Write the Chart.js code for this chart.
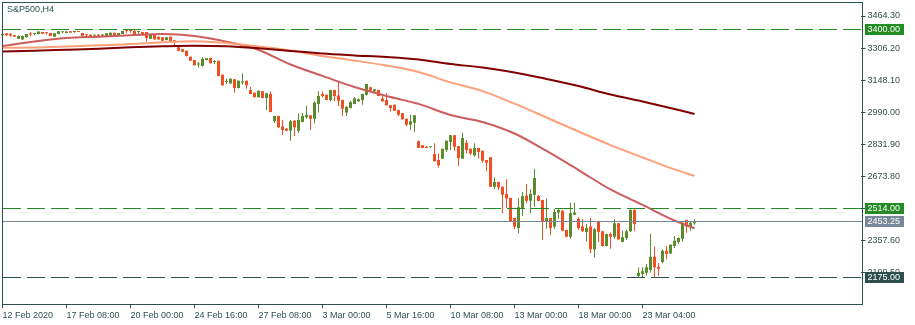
<!DOCTYPE html>
<html>
<head>
<meta charset="utf-8">
<title>S&amp;P500,H4</title>
<script src="https://cdn.jsdelivr.net/npm/chart.js@4.4.1/dist/chart.umd.min.js"></script>
<style>
  html, body { margin: 0; padding: 0; background: #ffffff; }
  #wrap { width: 915px; height: 325px; }
</style>
</head>
<body>
<div id="wrap"><canvas id="chart" width="915" height="325"></canvas></div>
<script>
// S&P500 H4 candles, oldest first
const opens = [
    3369,3379,3377,3369,3352,3349,3359,3378,3376,3376,
    3385,3383,3380,3362,3376,3384,3380,3389,3385,3389,
    3380,3372,3372,3368,3371,3368,3362,3369,3382,3369,
    3376,3393,3393,3392,3385,3385,3385,3352,3372,3362,
    3359,3346,3362,3342,3310,3300,3293,3264,3247,3225,
    3218,3247,3257,3238,3244,3175,3139,3132,3152,3109,
    3136,3145,3099,3086,3064,3093,3060,3080,2945,2971,
    2919,2909,2899,2948,2899,2942,2965,2975,2958,3030,
    3080,3076,3050,3100,3073,3050,2988,3011,3030,3044,
    3050,3076,3113,3093,3100,3057,3050,3024,3027,3001,
    2985,2958,2928,2938,2847,2827,2820,2817,2784,2754,
    2761,2804,2843,2876,2823,2761,2840,2810,2778,2814,
    2800,2754,2768,2623,2646,2623,2587,2567,2468,2419,
    2518,2580,2554,2583,2577,2557,2452,2468,2426,2495,
    2504,2409,2376,2485,2465,2426,2399,2426,2314,2452,
    2403,2330,2390,2376,2442,2350,2370,2403,2508,2182,
    2192,2199,2212,2278,2228,2252,2307,2294,2330,2350,
    2366,2459,2429,2442
];
const highs = [
    3378,3380,3378,3371,3368,3368,3376,3385,3380,3389,
    3386,3385,3382,3380,3390,3389,3389,3390,3389,3390,
    3382,3376,3373,3372,3376,3376,3380,3383,3383,3380,
    3390,3395,3399,3393,3392,3386,3386,3373,3373,3363,
    3361,3361,3363,3343,3311,3302,3294,3265,3248,3238,
    3261,3257,3258,3247,3245,3176,3155,3156,3154,3146,
    3182,3146,3114,3087,3097,3095,3085,3093,2972,2972,
    2952,2912,2952,2952,2985,2986,3021,2976,3044,3093,
    3093,3077,3101,3101,3139,3051,3018,3045,3065,3057,
    3081,3130,3116,3104,3101,3070,3083,3026,3028,3002,
    2986,2959,2978,2976,2850,2828,2823,2818,2837,2787,
    2811,2850,2878,2878,2824,2889,2853,2811,2837,2815,
    2801,2755,2769,2669,2647,2624,2659,2568,2469,2567,
    2597,2636,2610,2711,2582,2558,2564,2469,2514,2514,
    2508,2410,2544,2544,2472,2462,2439,2468,2419,2455,
    2405,2391,2396,2462,2444,2406,2409,2511,2511,2225,
    2225,2242,2390,2327,2248,2314,2330,2338,2380,2373,
    2446,2460,2449,2462
];
const lows = [
    3366,3366,3362,3361,3351,3348,3358,3366,3369,3374,
    3376,3372,3364,3361,3374,3379,3379,3382,3382,3385,
    3367,3362,3362,3359,3356,3362,3361,3368,3368,3368,
    3375,3382,3382,3376,3376,3368,3338,3351,3348,3348,
    3341,3345,3339,3320,3290,3286,3265,3242,3220,3211,
    3214,3246,3230,3228,3167,3119,3129,3131,3086,3108,
    3126,3106,3079,3063,3063,3059,3001,2990,2937,2912,
    2878,2897,2849,2873,2889,2941,2958,2902,2935,2988,
    3064,3049,3044,3044,3021,2971,2971,3010,3029,3040,
    3027,3073,3095,3090,3069,3040,3023,2994,2996,2971,
    2954,2919,2902,2892,2813,2813,2813,2815,2747,2718,
    2760,2794,2804,2800,2725,2760,2787,2778,2771,2761,
    2741,2699,2621,2610,2606,2492,2518,2449,2413,2393,
    2478,2544,2492,2524,2551,2360,2416,2383,2416,2465,
    2403,2373,2366,2482,2409,2399,2354,2295,2275,2350,
    2328,2329,2317,2366,2362,2349,2360,2399,2403,2174,
    2177,2186,2199,2177,2182,2245,2265,2293,2320,2340,
    2354,2396,2406,2435
];
const closes = [
    3376,3369,3368,3362,3366,3366,3376,3373,3378,3388,
    3377,3379,3366,3379,3389,3385,3388,3382,3387,3385,
    3367,3369,3362,3371,3367,3371,3379,3382,3369,3380,
    3390,3390,3390,3376,3388,3369,3356,3372,3349,3349,
    3342,3359,3340,3340,3293,3288,3267,3244,3221,3230,
    3254,3256,3231,3242,3169,3123,3144,3155,3109,3145,
    3142,3123,3080,3064,3096,3060,3083,2991,2971,2916,
    2902,2899,2945,2916,2952,2971,2978,2958,3037,3070,
    3070,3050,3100,3070,3047,3007,3017,3040,3057,3054,
    3080,3129,3096,3103,3070,3044,3024,3011,2997,2978,
    2955,2928,2945,2975,2814,2814,2814,2817,2748,2728,
    2810,2849,2876,2820,2764,2863,2804,2787,2814,2794,
    2751,2741,2623,2646,2620,2583,2564,2452,2426,2521,
    2577,2554,2587,2666,2552,2452,2468,2419,2498,2508,
    2406,2376,2492,2495,2419,2403,2419,2314,2413,2399,
    2330,2390,2376,2442,2363,2373,2403,2508,2439,2199,
    2206,2226,2278,2226,2218,2307,2291,2337,2356,2370,
    2445,2426,2445,2453
];

// moving averages every 8 bars
const maBars = [0,8,16,24,32,40,48,56,64,72,80,88,96,104,112,120,128,136,144,152,160,168,173];
const ma50  = [3316,3339,3356,3362,3369,3375,3366,3338,3297,3225,3169,3114,3070,3031,2976,2942,2885,2799,2705,2609,2533,2456,2418];
const ma100 = [3308,3309,3314,3320,3326,3335,3340,3331,3314,3294,3267,3245,3220,3188,3137,3094,3032,2964,2895,2828,2767,2708,2676];
const ma200 = [3289,3293,3298,3303,3310,3315,3318,3315,3305,3292,3279,3270,3262,3250,3228,3210,3186,3154,3119,3077,3043,3006,2981];

// time axis
const tickBars = [0,16,32,48,64,80,96,112,128,144,160];
const tickLabels = ['12 Feb 2020','17 Feb 08:00','20 Feb 00:00','24 Feb 16:00','27 Feb 08:00','3 Mar 00:00',
                    '5 Mar 16:00','10 Mar 08:00','13 Mar 00:00','18 Mar 00:00','23 Mar 04:00'];
const slotCount = 215; // bars + empty space on the right

// price axis
const priceTicks = [3464.3, 3306.2, 3148.1, 2990.0, 2831.9, 2673.8, 2515.7, 2357.6, 2199.5];
const priceMin = 2044.5;
const priceMax = 3528.4;

// horizontal levels
const levels = [3400, 2514, 2453.25, 2175];

// Colors
const dark = '#2F4F4F';
const colors = {
    bull: '#5A8C2E',
    bear: '#F04E23',
    ma50: '#CD5C5C',
    ma100: '#FFA07A',
    ma200: '#800000'
};
const levelStyles = [
    { color: '#228B22', dash: [18, 6] },
    { color: '#228B22', dash: [18, 6] },
    { color: '#778899', dash: [] },
    { color: dark, dash: [18, 6] }
];
const fontFamily = '"Liberation Sans", Arial, sans-serif';
const fontSize = 9;

const categories = [];
for (let i = 0; i < slotCount; i++) {
    const k = tickBars.indexOf(i);
    categories.push(k >= 0 ? tickLabels[k] : '');
}

const candleColors = closes.map((c, i) => c >= opens[i] ? colors.bull : colors.bear);
const wicks = lows.map((l, i) => [l, highs[i]]);
const bodies = opens.map((o, i) => [o, closes[i]]);

function sparse(values) {
    const out = new Array(opens.length).fill(null);
    maBars.forEach((b, k) => { out[b] = values[k]; });
    return out;
}

function maDataset(values, color) {
    return {
        type: 'line',
        data: sparse(values),
        borderColor: color,
        borderWidth: 2,
        pointRadius: 0,
        spanGaps: true,
        cubicInterpolationMode: 'monotone',
        fill: false,
        order: 0
    };
}

// levels, frame, title and price boxes
const overlay = {
    id: 'overlay',
    afterDatasetsDraw(chart) {
        const { ctx, chartArea: a, scales: { y } } = chart;
        ctx.save();
        ctx.beginPath();
        ctx.rect(2, a.top, 860, a.bottom - a.top);
        ctx.clip();
        levels.forEach((p, k) => {
            const py = Math.floor(y.getPixelForValue(p)) + 0.5;
            ctx.strokeStyle = levelStyles[k].color;
            ctx.lineWidth = 1;
            ctx.setLineDash(levelStyles[k].dash);
            ctx.beginPath();
            ctx.moveTo(3, py);
            ctx.lineTo(862, py);
            ctx.stroke();
        });
        ctx.restore();
    },
    afterDraw(chart) {
        const { ctx, scales: { y } } = chart;
        ctx.save();
        ctx.strokeStyle = dark;
        ctx.lineWidth = 1;
        ctx.strokeRect(2.5, 2.5, 860, 302);

        ctx.font = fontSize + 'px ' + fontFamily;
        ctx.textBaseline = 'middle';
        ctx.textAlign = 'left';
        ctx.fillStyle = dark;
        ctx.fillText('S&P500,H4', 7, 10);

        levels.forEach((p, k) => {
            const py = Math.floor(y.getPixelForValue(p)) + 0.5;
            ctx.fillStyle = levelStyles[k].color;
            ctx.fillRect(865, py - 5.5, 39, 11);
            ctx.fillStyle = '#ffffff';
            ctx.fillText(p.toFixed(2), 867.5, py);
        });
        ctx.restore();
    }
};

const chart = new Chart(document.getElementById('chart'), {
    type: 'bar',
    data: {
        labels: categories,
        datasets: [
            maDataset(ma200, colors.ma200),
            maDataset(ma100, colors.ma100),
            maDataset(ma50, colors.ma50),
            {
                data: bodies,
                backgroundColor: candleColors,
                barThickness: 3,
                minBarLength: 1,
                inflateAmount: 0,
                grouped: false,
                order: 2
            },
            {
                data: wicks,
                backgroundColor: candleColors,
                barThickness: 1,
                minBarLength: 1,
                inflateAmount: 0,
                grouped: false,
                order: 3
            }
        ]
    },
    options: {
        responsive: false,
        animation: false,
        devicePixelRatio: 1,
        layout: { padding: { left: 0.5, top: 3, right: 0, bottom: 0 } },
        plugins: {
            legend: { display: false },
            tooltip: { enabled: false }
        },
        scales: {
            x: {
                type: 'category',
                offset: true,
                grid: { drawOnChartArea: false, drawTicks: true, tickLength: 4, offset: false, color: dark },
                border: { display: false },
                ticks: {
                    autoSkip: false,
                    maxRotation: 0,
                    align: 'start',
                    padding: 2,
                    color: dark,
                    font: { family: fontFamily, size: fontSize }
                },
                afterBuildTicks: (scale) => { scale.ticks = tickBars.map(b => ({ value: b })); },
                afterFit: (scale) => { scale.height = 21; scale.paddingLeft = 0; scale.paddingRight = 0; }
            },
            y: {
                position: 'right',
                min: priceMin,
                max: priceMax,
                grid: { drawOnChartArea: false, tickLength: 5, color: dark },
                border: { display: false },
                ticks: {
                    padding: 2,
                    color: dark,
                    font: { family: fontFamily, size: fontSize },
                    callback: (v) => Number(v).toFixed(2)
                },
                afterBuildTicks: (scale) => { scale.ticks = priceTicks.map(v => ({ value: v })); },
                afterFit: (scale) => { scale.width = 54.5; scale.paddingTop = 0; scale.paddingBottom = 0; }
            }
        }
    },
    plugins: [overlay]
});
</script>
</body>
</html>
